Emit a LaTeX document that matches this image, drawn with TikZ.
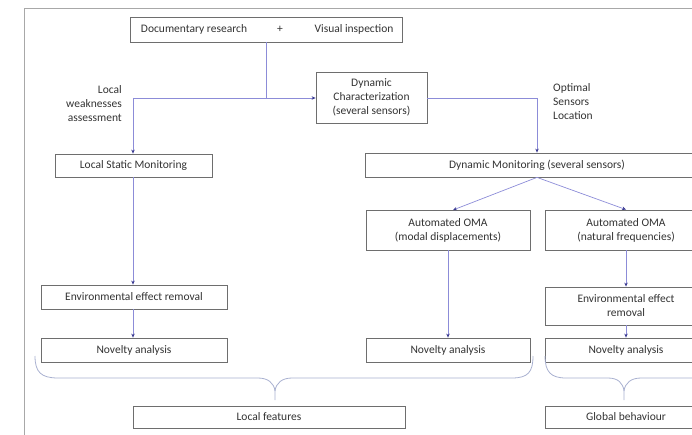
\documentclass[tikz,border=0pt]{standalone}
\usepackage{fontspec}
\setmainfont{Carlito}
\usetikzlibrary{arrows.meta}
\definecolor{conn}{HTML}{8C8CD8}
\definecolor{tipc}{HTML}{3A3A90}
\definecolor{boxc}{HTML}{6E6E6E}
\definecolor{txtc}{HTML}{333333}
\definecolor{bracec}{HTML}{A8B0D0}
\definecolor{framec}{HTML}{A8A8A8}
\begin{document}
\begin{tikzpicture}[x=1pt,y=-1pt,
  every node/.style={font=\fontsize{11.5}{14}\selectfont, text=txtc},
  box/.style={draw=boxc, line width=0.8pt, inner sep=0pt, align=center, fill=white},
  conn/.style={draw=conn, line width=0.7pt},
  arr/.style={conn, -{Stealth[length=4pt,width=3.5pt,color=tipc]}},
  brc/.style={draw=bracec, line width=0.8pt},
  lbl/.style={inner sep=0pt}
]
\useasboundingbox (0,0) rectangle (692,435);
\begin{scope}
\clip (0,0) rectangle (692,435);
% frame
\draw[framec, line width=0.8pt] (24,435) -- (24,8) -- (700,8);
% nodes
\node[box, minimum width=272, minimum height=25] (top) at (266,29.5) {};
\node[lbl] (dr) at (194,29.5) {Documentary research};
\node[lbl] (plus) at (280,29.5) {+};
\node[lbl] (vi) at (354,29.5) {Visual inspection};
\node[box, minimum width=111, minimum height=51] (dc) at (371.5,97.5) {Dynamic\\Characterization\\(several sensors)};
\node[box, minimum width=157, minimum height=23] (lsm) at (133.5,165.5) {Local Static Monitoring};
\node[box, minimum width=344, minimum height=24] (dm) at (537,165) {Dynamic Monitoring (several sensors)};
\node[box, minimum width=164, minimum height=40] (oma1) at (448,230) {Automated OMA\\(modal displacements)};
\node[box, minimum width=162, minimum height=40] (oma2) at (626,230) {Automated OMA\\(natural frequencies)};
\node[box, minimum width=186, minimum height=24] (envL) at (134,297) {Environmental effect removal};
\node[box, minimum width=186, minimum height=24] (naL) at (134,350) {Novelty analysis};
\node[box, minimum width=164, minimum height=24] (naM) at (448,350) {Novelty analysis};
\node[box, minimum width=162, minimum height=38] (envR) at (626,306) {Environmental effect\\removal};
\node[box, minimum width=162, minimum height=24] (naR) at (626,350) {Novelty analysis};
\node[box, minimum width=272, minimum height=22] (lf) at (269,417) {Local features};
\node[box, minimum width=162, minimum height=22] (gb) at (626,417) {Global behaviour};
% labels
\node[lbl, align=right, anchor=east] (lwa) at (122,104) {Local\\weaknesses\\assessment};
\node[lbl, align=left, anchor=west] (osl) at (553,102) {Optimal\\Sensors\\Location};
% connectors
\coordinate (j1) at (266,98);
\coordinate (j2) at (133,98);
\coordinate (j3) at (537,98);
\draw[conn] (top.south -| j1) -- (j1);
\draw[arr] (j2) -- (dc.west |- j2);
\draw[arr] (j2) -- (lsm.north -| j2);
\draw[arr] (dc.east |- j3) -- (j3) -- (dm.north);
\draw[arr] (dm.south) -- (453,210);
\draw[arr] (dm.south) -- (oma2.north);
\draw[arr] (oma1.south) -- (naM.north);
\draw[arr] (oma2.south) -- (envR.north);
\draw[arr] (envR.south) -- (naR.north);
\draw[arr] (lsm.south -| j2) -- (envL.north -| j2);
\draw[arr] (envL.south -| j2) -- (naL.north -| j2);
% braces
\draw[brc] (35,356) .. controls (35,372) and (41,378) .. (58,378) -- (258,378)
  .. controls (268,378) and (274,383) .. (275,391) -- (275,400);
\draw[brc] (275,391) .. controls (276,383) and (282,378) .. (292,378) -- (512,378)
  .. controls (528,378) and (533,372) .. (533,356);
\draw[brc] (545,356) .. controls (545,372) and (551,378) .. (566,378) -- (608,378)
  .. controls (618,378) and (623,383) .. (624,391) -- (624,400);
\draw[brc] (624,391) .. controls (625,383) and (631,378) .. (641,378) -- (700,378);
\end{scope}
\end{tikzpicture}
\end{document}
